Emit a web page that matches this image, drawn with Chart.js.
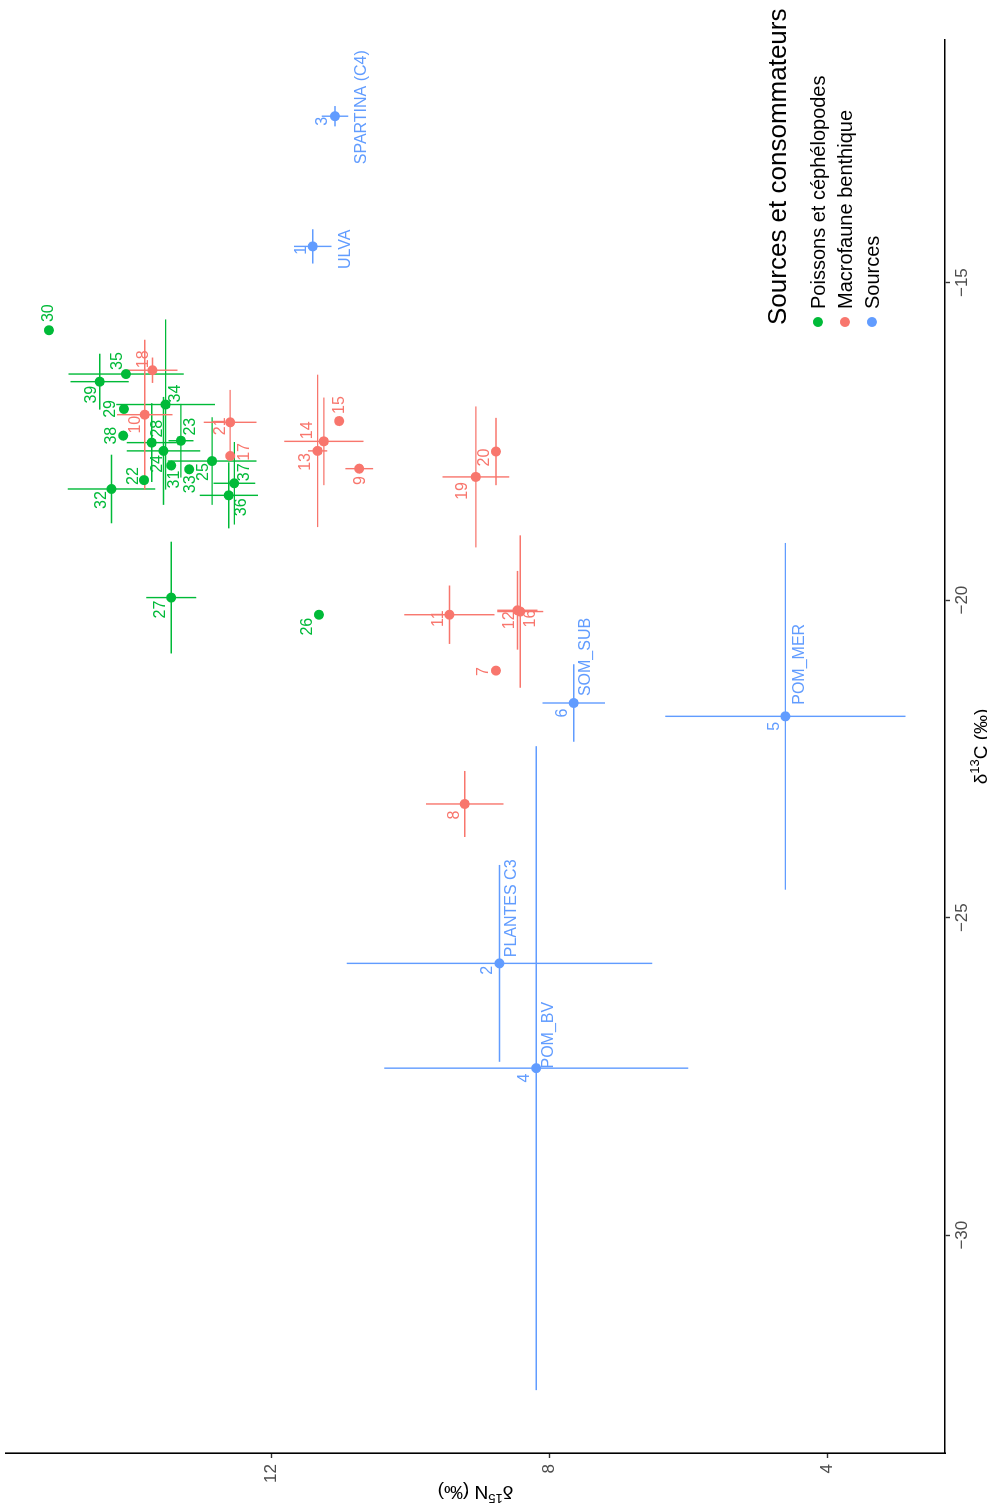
<!DOCTYPE html>
<html>
<head>
<meta charset="utf-8">
<title>Sources et consommateurs</title>
<script src="https://cdn.jsdelivr.net/npm/chart.js@4.4.1/dist/chart.umd.min.js"></script>
<style>
    html, body { margin: 0; padding: 0; background: #fff; overflow: hidden; }
    /* the ggplot figure is drawn upright, then turned a quarter turn to the left */
    #wrap {
        position: absolute; left: 0; top: 0;
        width: 1511px; height: 987px;
        transform-origin: 0 0;
        transform: translate(0, 1511px) rotate(-90deg);
    }
</style>
</head>
<body>
<div id="wrap"><canvas id="chart" width="1511" height="987"></canvas></div>
<script>
const FONT = '"Liberation Sans", Arial, Helvetica, sans-serif';

const groupNames = ['Poissons et céphélopodes', 'Macrofaune benthique', 'Sources'];
const groupColors = ['#00BA38', '#F8766D', '#619CFF'];

const cTicks = [-30, -25, -20, -15];
const nTicks = [4, 8, 12];

// Poissons et céphalopodes
const fishIds = ['22','23','24','25','26','27','28','29','30','31','32','33','34','35','36','37','38','39'];
const fishC   = [-18.11,-17.49,-17.65,-17.81,-20.23,-19.96,-17.52,-16.99,-15.75,-17.88,-18.25,-17.94,-16.92,-16.44,-18.35,-18.16,-17.41,-16.56];
const fishN   = [13.84,13.31,13.56,12.86,11.32,13.45,13.73,14.13,15.21,13.45,14.31,13.19,13.53,14.10,12.62,12.54,14.14,14.48];
const fishSdC = [0,0.58,0.85,0.69,0,0.88,0.62,0,0,0,0.54,0,1.34,0,0.52,0.65,0,0.44];
const fishSdN = [0,0.18,0.53,0.64,0,0.36,0.36,0,0,0,0.63,0,0.71,0.83,0.42,0.30,0,0.42];

// Macrofaune benthique
const benthIds = ['7','8','9','10','11','12','13','14','15','16','17','18','19','20','21'];
const benthC   = [-21.11,-23.21,-17.93,-17.08,-20.23,-20.16,-17.65,-17.50,-17.18,-20.18,-17.73,-16.38,-18.06,-17.66,-17.20];
const benthN   = [8.77,9.22,10.74,13.83,9.44,8.46,11.34,11.25,11.03,8.42,12.60,13.72,9.06,8.77,12.60];
const benthSdC = [0,0.52,0,1.18,0.46,0.62,1.20,0.69,0,1.20,0,0.20,1.11,0.53,0.51];
const benthSdN = [0,0.56,0.20,0.40,0.65,0.29,0.14,0.57,0,0.33,0,0.36,0.48,0,0.38];

// Sources
const srcIds   = ['1','2','3','4','5','6'];
const srcNames = ['ULVA','PLANTES C3','SPARTINA (C4)','POM_BV','POM_MER','SOM_SUB'];
const srcC     = [-14.43,-25.72,-12.38,-27.37,-21.83,-21.62];
const srcN     = [11.41,8.72,11.09,8.19,4.60,7.65];
const srcSdC   = [0.27,1.55,0.16,5.07,2.73,0.61];
const srcSdN   = [0.27,2.20,0.19,2.19,1.73,0.45];

// where each text label sits next to its point (px, upright figure)
const fishLabPos  = [[4,-11],[14,10],[-13,-6],[-11,-9],[-12,-11],[-12,-11],[14,6],[0,-13],[17,0],[-14,3],[-11,-10],[-15,1],[11,10],[13,-8],[-12,13],[11,10],[0,-12],[-13,-8]];
const benthLabPos = [[-1,-12],[-11,-10],[-12,1],[-10,-9],[-4,-11],[-10,-8],[-11,-12],[11,-16],[16,0],[-7,10],[4,14],[11,-9],[-14,-13],[-6,-11],[-4,-10]];
const srcLabPos   = [[-4,-11],[-7,-12],[-5,-12],[-10,-12],[-10,-11],[-10,-11]];
const srcNamePos  = [[-3,33],[55,12],[9,27],[33,12],[52,14],[46,12]];

const groups = [
    {ids: fishIds,  c: fishC,  n: fishN,  sdC: fishSdC,  sdN: fishSdN,  lab: fishLabPos},
    {ids: benthIds, c: benthC, n: benthN, sdC: benthSdC, sdN: benthSdN, lab: benthLabPos},
    {ids: srcIds,   c: srcC,   n: srcN,   sdC: srcSdC,   sdN: srcSdN,   lab: srcLabPos}
];

//error bars, under the points
const errorBars = {
    id: 'errorBars',
    beforeDatasetsDraw(chart) {
        const {ctx, scales: {x, y}} = chart;
        ctx.save();
        ctx.lineWidth = 1.4;
        groups.forEach((g, i) => {
            ctx.strokeStyle = groupColors[i];
            g.c.forEach((c, k) => {
                const n = g.n[k];
                const px = x.getPixelForValue(c), py = y.getPixelForValue(n);
                ctx.beginPath();
                if (g.sdC[k] > 0) {
                    ctx.moveTo(x.getPixelForValue(c - g.sdC[k]), py);
                    ctx.lineTo(x.getPixelForValue(c + g.sdC[k]), py);
                }
                if (g.sdN[k] > 0) {
                    ctx.moveTo(px, y.getPixelForValue(n - g.sdN[k]));
                    ctx.lineTo(px, y.getPixelForValue(n + g.sdN[k]));
                }
                ctx.stroke();
            });
        });
        ctx.restore();
    }
};

//numbers and source names
const pointLabels = {
    id: 'pointLabels',
    afterDatasetsDraw(chart) {
        const {ctx, scales: {x, y}} = chart;
        ctx.save();
        ctx.font = '16px ' + FONT;
        ctx.textAlign = 'center';
        ctx.textBaseline = 'middle';
        groups.forEach((g, i) => {
            ctx.fillStyle = groupColors[i];
            g.ids.forEach((id, k) => {
                const px = x.getPixelForValue(g.c[k]), py = y.getPixelForValue(g.n[k]);
                ctx.fillText(id, px + g.lab[k][0], py + g.lab[k][1]);
                if (i === 2) {
                    ctx.fillText(srcNames[k], px + srcNamePos[k][0], py + srcNamePos[k][1]);
                }
            });
        });
        ctx.restore();
    }
};

function drawSup(ctx, parts, cx, cy, size) {
    let total = 0;
    parts.forEach(p => {
        ctx.font = (p[1] ? Math.round(size * 0.7) : size) + 'px ' + FONT;
        p.w = ctx.measureText(p[0]).width;
        total += p.w;
    });
    let xx = cx - total / 2;
    ctx.textAlign = 'left';
    ctx.textBaseline = 'alphabetic';
    parts.forEach(p => {
        ctx.font = (p[1] ? Math.round(size * 0.7) : size) + 'px ' + FONT;
        ctx.fillText(p[0], xx, cy + size * 0.36 - (p[1] ? size * 0.4 : 0));
        xx += p.w;
    });
}

//axis titles and legend
const decorations = {
    id: 'decorations',
    afterDraw(chart) {
        const {ctx, chartArea: a} = chart;
        ctx.save();
        ctx.fillStyle = '#000';
        drawSup(ctx, [['δ', 0], ['13', 1], ['C (‰)', 0]], (a.left + a.right) / 2, 980, 19);
        ctx.translate(18, (a.top + a.bottom) / 2);
        ctx.rotate(-Math.PI / 2);
        drawSup(ctx, [['δ', 0], ['15', 1], ['N (‰)', 0]], 0, 0, 19);
        ctx.restore();

        const lx = a.right - 285;
        ctx.save();
        ctx.fillStyle = '#000';
        ctx.textBaseline = 'middle';
        ctx.textAlign = 'left';
        ctx.font = '26px ' + FONT;
        ctx.fillText('Sources et consommateurs', lx, a.bottom - 166);
        ctx.font = '20px ' + FONT;
        groupNames.forEach((name, i) => {
            const cy = a.bottom - 127 + i * 27;
            ctx.fillStyle = groupColors[i];
            ctx.beginPath();
            ctx.arc(lx + 3, cy, 5, 0, Math.PI * 2);
            ctx.fill();
            ctx.fillStyle = '#000';
            ctx.fillText(name, lx + 16, cy + 1);
        });
        ctx.restore();
    }
};

const minus = v => String(v).replace('-', '\u2212');

new Chart(document.querySelector('#chart'), {
    type: 'scatter',
    data: {
        datasets: groups.map((g, i) => ({
            label: groupNames[i],
            data: g.c.map((c, k) => ({x: c, y: g.n[k]})),
            backgroundColor: groupColors[i],
            pointRadius: 5,
            pointBorderWidth: 0
        }))
    },
    options: {
        responsive: false,
        animation: false,
        events: [],
        layout: { autoPadding: false, padding: { top: 6, right: 40, left: 0, bottom: 0 } },
        plugins: { legend: { display: false }, tooltip: { enabled: false } },
        scales: {
            x: {
                type: 'linear', min: -33.43, max: -11.18,
                afterBuildTicks: s => { s.ticks = cTicks.map(v => ({value: v})); },
                afterFit: s => { s.height = 42; s.paddingLeft = 0; s.paddingRight = 0; },
                grid: { drawOnChartArea: false, drawTicks: true, tickLength: 5, tickWidth: 1.4, tickColor: '#333' },
                border: { display: true, color: '#000', width: 1.6 },
                ticks: { color: '#4d4d4d', font: { family: FONT, size: 17 }, padding: 2, maxRotation: 0, callback: minus }
            },
            y: {
                type: 'linear', min: 2.3, max: 15.83,
                afterBuildTicks: s => { s.ticks = nTicks.map(v => ({value: v})); },
                afterFit: s => { s.width = 58; s.paddingTop = 0; s.paddingBottom = 0; },
                grid: { drawOnChartArea: false, drawTicks: true, tickLength: 5, tickWidth: 1.4, tickColor: '#333' },
                border: { display: true, color: '#000', width: 1.6 },
                ticks: { color: '#4d4d4d', font: { family: FONT, size: 17 }, padding: 6, callback: minus }
            }
        }
    },
    plugins: [errorBars, pointLabels, decorations]
});
</script>
</body>
</html>
